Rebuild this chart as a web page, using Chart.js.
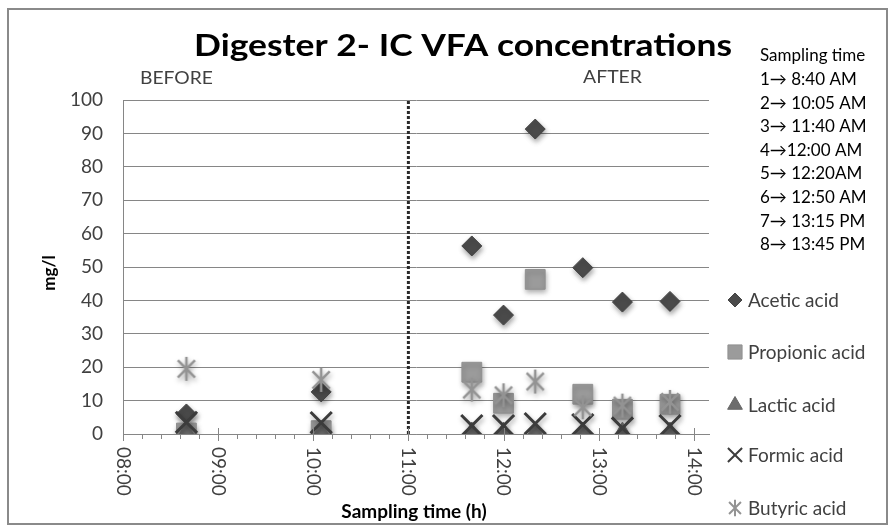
<!DOCTYPE html>
<html>
<head>
<meta charset="utf-8">
<script src="https://cdn.jsdelivr.net/npm/chart.js@4"></script>
<style>
  html, body { margin: 0; padding: 0; background: #fff; }
  #wrap { width: 896px; height: 531px; }
</style>
</head>
<body>
<div id="wrap"><canvas id="chart" width="896" height="531"></canvas></div>
<script>
// sampling times (h:mm) and concentrations in mg/l
const sampleTimes = ['08:40', '10:05', '11:40', '12:00', '12:20', '12:50', '13:15', '13:45'];
const acetic    = [6.0, 12.6, 56.3, 35.6, 91.3, 49.8, 39.5, 39.7];
const propionic = [0.3, 1.0, 18.5, 9.2, 46.3, 11.9, 7.4, 8.9];
const lactic    = [0, 0, 0, 0, 0, 0, 0, 0];
const formic    = [3.5, 3.4, 2.5, 2.5, 3.1, 2.8, 1.8, 2.5];
const butyric   = [19.5, 16.2, 13.3, 11.6, 15.7, 8.0, 8.5, 9.6];

const dividerTime = '11:00';
const hourTicks = ['08:00', '09:00', '10:00', '11:00', '12:00', '13:00', '14:00'];
const samplingNotes = [
  'Sampling time',
  '1\u2192 8:40 AM',
  '2\u2192 10:05 AM',
  '3\u2192 11:40 AM',
  '4\u219212:00 AM',
  '5\u2192 12:20AM',
  '6\u2192 12:50 AM',
  '7\u2192 13:15 PM',
  '8\u2192 13:45 PM'
];

const FONT = 'Lato, "Open Sans", sans-serif';

function toHours(t) {
  let p = t.split(':');
  return Number(p[0]) + Number(p[1]) / 60;
}

function points(values) {
  return sampleTimes.map((t, i) => ({ x: toHours(t), y: values[i] }));
}

// excel style asterisk: an x plus a vertical bar
function asterisk(size, color, lw) {
  let c = document.createElement('canvas');
  c.width = size;
  c.height = size;
  let g = c.getContext('2d');
  let m = size / 2;
  let d = size * 0.33;
  g.strokeStyle = color;
  g.lineWidth = lw;
  g.beginPath();
  g.moveTo(m - d, m - d); g.lineTo(m + d, m + d);
  g.moveTo(m + d, m - d); g.lineTo(m - d, m + d);
  g.moveTo(m, m - size * 0.46); g.lineTo(m, m + size * 0.46);
  g.stroke();
  return c;
}

const starBig = asterisk(26, '#939393', 2.5);
const starSmall = asterisk(18, '#939393', 2);

let datasets = [
  {
    label: 'Acetic acid', data: points(acetic), order: 5,
    pointStyle: 'rectRot', pointRadius: 10,
    backgroundColor: '#4b4b4b', borderColor: '#444', borderWidth: 1,
    legendRadius: 7
  },
  {
    label: 'Propionic acid', data: points(propionic), order: 4,
    pointStyle: 'rect', pointRadius: 14,
    backgroundColor: '#9b9b9b', borderColor: '#909090', borderWidth: 1,
    legendRadius: 10
  },
  {
    label: 'Lactic acid', data: points(lactic), order: 3,
    pointStyle: 'triangle', pointRadius: 12,
    backgroundColor: '#6c6c6c', borderColor: '#666', borderWidth: 1,
    legendRadius: 8.5
  },
  {
    label: 'Formic acid', data: points(formic), order: 2,
    pointStyle: 'crossRot', pointRadius: 15,
    backgroundColor: '#3c3c3c', borderColor: '#3c3c3c', borderWidth: 3,
    legendRadius: 10
  },
  {
    label: 'Butyric acid', data: points(butyric), order: 1,
    pointStyle: starBig, pointRadius: 13,
    backgroundColor: '#939393', borderColor: '#939393', borderWidth: 0,
    legendImage: starSmall
  },
  {
    label: 'divider', divider: true, order: 6,
    data: [{ x: toHours(dividerTime), y: 0 }, { x: toHours(dividerTime), y: 100 }],
    showLine: true, pointRadius: 0, borderColor: '#2a2a2a', borderWidth: 3,
    borderDash: [3, 2]
  }
];

// draw text squeezed or stretched to a given width
function fitText(ctx, text, x, y, width) {
  let w = ctx.measureText(text).width;
  ctx.save();
  ctx.translate(x, y);
  ctx.scale(width / w, 1);
  ctx.fillText(text, 0, 0);
  ctx.restore();
}

let decor = {
  id: 'decor',
  beforeDraw(chart) {
    let ctx = chart.ctx;
    ctx.save();
    ctx.fillStyle = '#fff';
    ctx.fillRect(0, 0, chart.width, chart.height);
    ctx.strokeStyle = '#8a8a8a';
    ctx.lineWidth = 2;
    ctx.strokeRect(8, 9, 879, 515);
    ctx.restore();
  },
  beforeDatasetDraw(chart, args) {
    let ctx = chart.ctx;
    ctx.save();
    if (!args.meta._dataset.divider) {
      ctx.shadowColor = 'rgba(0,0,0,0.35)';
      ctx.shadowBlur = 5;
      ctx.shadowOffsetX = 1;
      ctx.shadowOffsetY = 3;
    }
  },
  afterDatasetDraw(chart) {
    chart.ctx.restore();
  },
  afterDraw(chart) {
    let ctx = chart.ctx;
    let xs = chart.scales.x;
    let area = chart.chartArea;
    ctx.save();

    // x axis ticks, majors every hour, minors every 12 minutes
    ctx.strokeStyle = '#868686';
    ctx.lineWidth = 1;
    ctx.beginPath();
    for (let k = 0; k <= 30; k++) {
      let v = 8 + k * 0.2;
      let px = Math.round(xs.getPixelForValue(v)) + 0.5;
      if (k % 5 == 0) {
        ctx.moveTo(px, area.bottom - 6);
        ctx.lineTo(px, area.bottom + 7);
      } else {
        ctx.moveTo(px, area.bottom);
        ctx.lineTo(px, area.bottom + 5);
      }
    }
    ctx.stroke();

    // rotated hour labels (reading downwards)
    ctx.fillStyle = '#404040';
    ctx.font = '19px ' + FONT;
    ctx.textAlign = 'left';
    ctx.textBaseline = 'middle';
    hourTicks.forEach(lbl => {
      let px = xs.getPixelForValue(toHours(lbl));
      ctx.save();
      ctx.translate(px, area.bottom + 13);
      ctx.rotate(Math.PI / 2);
      ctx.fillText(lbl, 0, 0);
      ctx.restore();
    });

    // axis titles
    ctx.fillStyle = '#000';
    ctx.font = 'bold 19px ' + FONT;
    ctx.textAlign = 'center';
    ctx.fillText('Sampling time (h)', 414, 512);
    ctx.font = 'bold 17px ' + FONT;
    ctx.save();
    ctx.translate(50, 273);
    ctx.rotate(-Math.PI / 2);
    ctx.fillText('mg/l', 0, 0);
    ctx.restore();

    // chart title
    ctx.font = 'bold 30px ' + FONT;
    ctx.textAlign = 'left';
    fitText(ctx, 'Digester 2- IC VFA concentrations', 194, 46, 538);

    // before / after
    ctx.fillStyle = '#404040';
    ctx.font = '17px ' + FONT;
    fitText(ctx, 'BEFORE', 140, 79, 73);
    fitText(ctx, 'AFTER', 583, 78, 59);

    // sampling time notes
    ctx.font = '17px ' + FONT;
    ctx.fillStyle = '#000';
    samplingNotes.forEach((s, i) => {
      ctx.fillText(s, 760, 56 + i * 23.6);
    });

    // legend
    let rows = [300, 352, 405, 455, 508];
    let items = chart.data.datasets.filter(d => !d.divider);
    items.forEach((d, i) => {
      let y = rows[i];
      let x = 735;
      if (d.legendImage) {
        ctx.drawImage(d.legendImage, x - d.legendImage.width / 2, y - d.legendImage.height / 2);
      } else {
        ctx.fillStyle = d.backgroundColor;
        ctx.strokeStyle = d.borderColor;
        ctx.lineWidth = d.pointStyle == 'crossRot' ? 2 : 1;
        Chart.helpers.drawPoint(ctx, {
          pointStyle: d.pointStyle, radius: d.legendRadius, borderWidth: ctx.lineWidth, rotation: 0
        }, x, y);
      }
      ctx.fillStyle = '#404040';
      ctx.font = '19px ' + FONT;
      ctx.textAlign = 'left';
      ctx.textBaseline = 'middle';
      ctx.fillText(d.label, 748, y + 1);
    });

    ctx.restore();
  }
};

let config = {
  type: 'scatter',
  data: { datasets: datasets },
  options: {
    responsive: false,
    animation: false,
    devicePixelRatio: 1,
    layout: {
      padding: { left: 10, right: 187, top: 100, bottom: 0 }
    },
    plugins: {
      legend: { display: false },
      tooltip: { enabled: false }
    },
    scales: {
      x: {
        type: 'linear',
        min: 8,
        max: 14.16,
        ticks: { display: false, stepSize: 1 },
        grid: { display: false },
        border: { display: true, color: '#868686', width: 1 },
        afterFit(scale) { scale.height = 97; }
      },
      y: {
        min: 0,
        max: 100,
        ticks: {
          stepSize: 10,
          padding: 20,
          color: '#404040',
          font: { family: FONT, size: 19 }
        },
        grid: { color: '#868686', lineWidth: 1, drawTicks: false },
        border: { display: true, color: '#868686', width: 1 },
        afterFit(scale) { scale.width = 113; }
      }
    }
  },
  plugins: [decor]
};

let ctx = document.getElementById('chart').getContext('2d');
let myChart = new Chart(ctx, config);
</script>
</body>
</html>
